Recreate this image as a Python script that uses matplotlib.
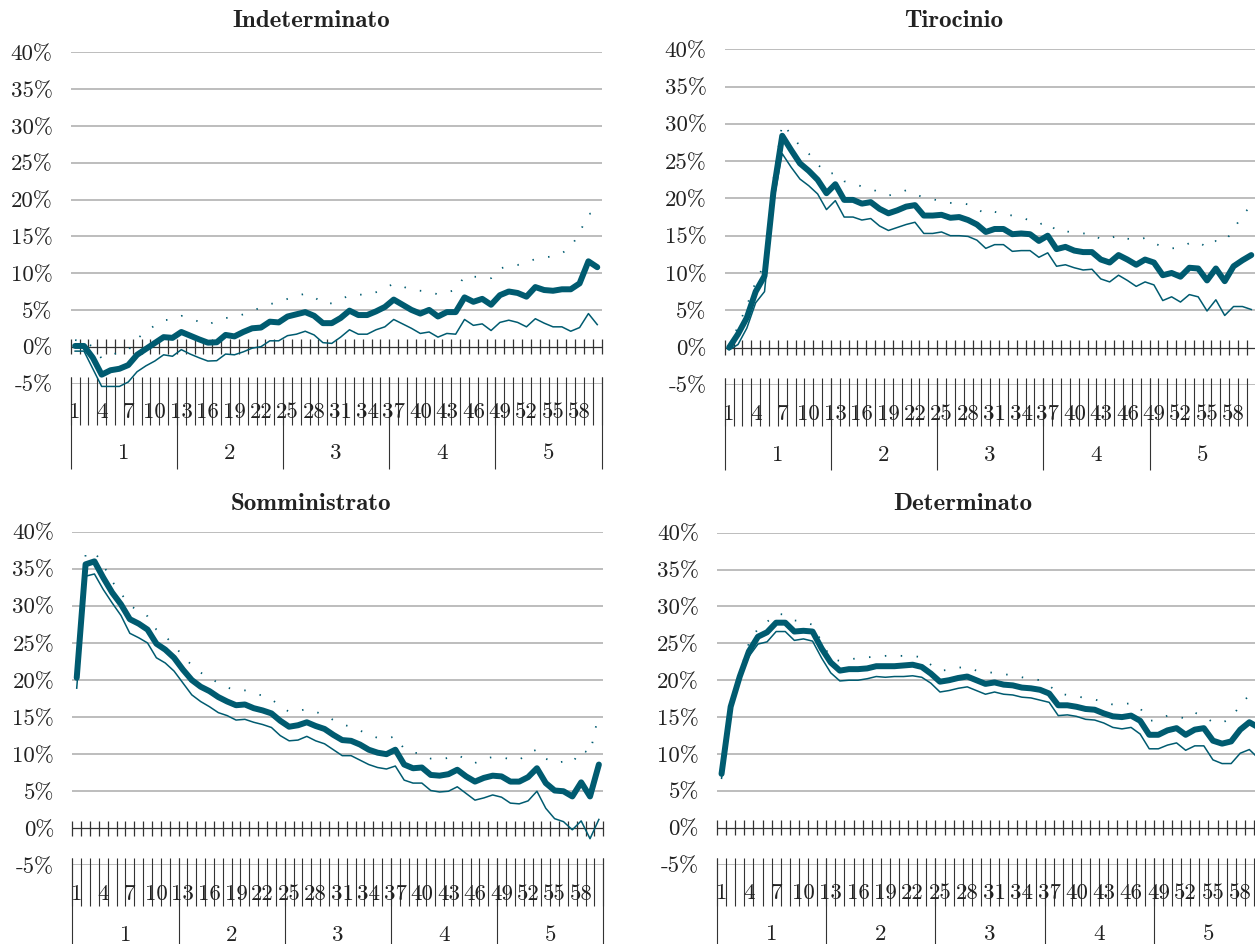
import numpy as np
import matplotlib
matplotlib.use("Agg")
import matplotlib.pyplot as plt
from matplotlib.transforms import blended_transform_factory

plt.rcParams['font.family'] = ['cmr10', 'DejaVu Serif']
plt.rcParams['axes.unicode_minus'] = False
plt.rcParams['axes.formatter.use_mathtext'] = True

# dati: mesi 1-60, raggruppati in anni 1-5
mesi = np.arange(1, 61)
anni = ['1', '2', '3', '4', '5']
mesi_etichetta = np.arange(1, 61, 3)
y_ticks = np.arange(-5, 41, 5)

# Indeterminato
indet_stima = [0.1, 0.1, -1.5, -3.8, -3.2, -3.0, -2.5, -1.1, -0.3, 0.5,
               1.3, 1.2, 2.0, 1.5, 1.0, 0.55, 0.6, 1.6, 1.4, 2.0,
               2.5, 2.6, 3.4, 3.3, 4.1, 4.4, 4.7, 4.2, 3.2, 3.2,
               3.9, 4.9, 4.3, 4.3, 4.8, 5.4, 6.4, 5.7, 5.0, 4.5,
               5.0, 4.1, 4.7, 4.7, 6.7, 6.1, 6.5, 5.7, 7.0, 7.5,
               7.3, 6.8, 8.1, 7.7, 7.6, 7.8, 7.8, 8.6, 11.6, 10.8]
indet_inf = [-0.6, -0.6, -3.0, -5.4, -5.4, -5.4, -4.8, -3.4, -2.6, -1.95,
             -1.1, -1.3, -0.4, -1.0, -1.5, -1.95, -1.9, -1.0, -1.1, -0.7,
             -0.2, 0.0, 0.8, 0.8, 1.5, 1.7, 2.1, 1.6, 0.55, 0.45,
             1.3, 2.3, 1.7, 1.7, 2.3, 2.7, 3.7, 3.1, 2.5, 1.8,
             2.0, 1.3, 1.8, 1.7, 3.7, 2.9, 3.1, 2.2, 3.3, 3.6,
             3.3, 2.7, 3.8, 3.2, 2.7, 2.7, 2.1, 2.6, 4.5, 3.0]
indet_sup = [0.9, 0.7, 0.0, -1.6, -1.1, -0.8, -0.5, 1.1, 2.0, 2.9,
             3.6, 3.7, 4.2, 3.8, 3.4, 3.0, 3.5, 3.9, 4.0, 4.4,
             4.9, 5.3, 5.8, 6.0, 6.5, 6.9, 7.2, 6.8, 5.8, 5.9,
             6.4, 7.0, 7.1, 7.0, 7.4, 7.9, 8.6, 8.2, 7.7, 7.6,
             7.5, 7.1, 7.4, 7.7, 9.6, 9.5, 9.5, 9.3, 10.6, 11.0,
             11.1, 11.5, 11.9, 12.1, 12.3, 12.7, 13.5, 15.5, 18.0, 18.4]

# Tirocinio
tiro_stima = [0.0, 1.8, 4.0, 7.5, 9.6, 20.8, 28.4, 26.5, 24.7, 23.7,
              22.5, 20.7, 21.9, 19.8, 19.8, 19.3, 19.5, 18.6, 18.0, 18.4,
              18.9, 19.1, 17.7, 17.7, 17.8, 17.4, 17.5, 17.1, 16.5, 15.5,
              15.9, 15.9, 15.2, 15.3, 15.2, 14.3, 15.0, 13.2, 13.5, 13.0,
              12.8, 12.8, 11.8, 11.4, 12.4, 11.8, 11.1, 11.8, 11.4, 9.7,
              10.0, 9.5, 10.7, 10.6, 9.0, 10.6, 8.9, 10.9, 11.7, 12.4]
tiro_inf = [-0.3, 0.4, 2.6, 6.0, 7.5, 19.5, 26.0, 24.2, 22.6, 21.7,
            20.6, 18.5, 19.7, 17.5, 17.5, 17.1, 17.3, 16.3, 15.7, 16.1,
            16.5, 16.8, 15.3, 15.3, 15.5, 15.0, 15.0, 14.9, 14.4, 13.3,
            13.8, 13.8, 12.9, 13.0, 13.0, 12.1, 12.7, 10.9, 11.1, 10.7,
            10.4, 10.5, 9.2, 8.8, 9.7, 9.0, 8.2, 8.8, 8.4, 6.3,
            6.8, 6.1, 7.1, 6.8, 4.9, 6.4, 4.3, 5.5, 5.5, 5.1]
tiro_sup = [0.3, 2.8, 5.6, 8.8, 11.2, 22.5, 30.0, 28.6, 27.0, 26.0,
            24.6, 23.3, 23.4, 22.3, 22.0, 21.6, 21.3, 20.8, 20.4, 20.6,
            21.1, 20.6, 20.1, 19.9, 19.6, 19.4, 19.4, 19.2, 18.6, 17.9,
            18.2, 17.9, 17.7, 17.5, 17.0, 16.5, 16.9, 15.6, 15.6, 15.4,
            15.3, 15.3, 14.5, 14.6, 15.1, 14.6, 14.4, 14.7, 14.0, 13.5,
            13.3, 13.4, 14.0, 14.2, 13.4, 14.3, 14.2, 15.8, 17.8, 19.0]

# Somministrato
somm_stima = [20.3, 35.6, 36.0, 33.8, 31.8, 30.2, 28.2, 27.6, 26.8, 24.9,
              24.1, 23.0, 21.4, 20.0, 19.1, 18.5, 17.7, 17.1, 16.6, 16.7,
              16.2, 15.9, 15.5, 14.5, 13.7, 13.9, 14.3, 13.8, 13.4, 12.6,
              11.9, 11.8, 11.3, 10.6, 10.2, 10.0, 10.6, 8.6, 8.1, 8.2,
              7.2, 7.1, 7.3, 7.9, 7.0, 6.3, 6.8, 7.1, 7.0, 6.3,
              6.3, 6.9, 8.1, 6.1, 5.1, 5.0, 4.3, 6.2, 4.3, 8.6]
somm_inf = [18.9, 34.0, 34.3, 32.2, 30.4, 28.7, 26.3, 25.7, 25.0, 23.0,
            22.3, 21.2, 19.6, 18.0, 17.1, 16.4, 15.6, 15.2, 14.6, 14.7,
            14.3, 14.0, 13.6, 12.5, 11.8, 11.9, 12.4, 11.8, 11.4, 10.6,
            9.8, 9.8, 9.2, 8.6, 8.2, 8.0, 8.4, 6.5, 6.1, 6.1,
            5.1, 4.9, 5.0, 5.6, 4.7, 3.8, 4.1, 4.5, 4.2, 3.4,
            3.3, 3.7, 5.0, 2.7, 1.3, 0.9, -0.2, 1.0, -1.4, 1.2]
somm_sup = [21.7, 36.9, 37.3, 35.5, 33.3, 31.7, 30.0, 29.4, 28.6, 26.8,
            25.9, 24.7, 23.2, 22.0, 21.0, 20.3, 19.6, 19.0, 18.6, 18.6,
            18.2, 17.9, 17.4, 16.5, 15.7, 15.8, 16.1, 15.7, 15.3, 14.6,
            14.0, 13.7, 13.2, 12.6, 12.2, 12.1, 12.4, 10.7, 10.2, 10.1,
            9.4, 9.3, 9.5, 9.9, 9.3, 8.8, 9.4, 9.6, 9.6, 9.3,
            9.2, 10.2, 10.6, 9.4, 8.8, 9.0, 8.8, 10.6, 10.1, 15.5]

# Determinato
det_stima = [7.3, 16.4, 20.5, 23.9, 25.9, 26.5, 27.8, 27.8, 26.6, 26.7,
             26.6, 24.3, 22.4, 21.3, 21.5, 21.5, 21.6, 21.9, 21.9, 21.9,
             22.0, 22.1, 21.8, 20.9, 19.8, 20.0, 20.3, 20.5, 20.0, 19.5,
             19.7, 19.4, 19.3, 19.0, 18.9, 18.7, 18.2, 16.6, 16.6, 16.4,
             16.1, 16.0, 15.5, 15.1, 15.0, 15.2, 14.5, 12.6, 12.6, 13.2,
             13.5, 12.6, 13.3, 13.5, 11.8, 11.4, 11.7, 13.3, 14.3, 13.6]
det_inf = [6.7, 16.0, 20.3, 23.2, 24.9, 25.2, 26.6, 26.6, 25.4, 25.6,
           25.3, 23.0, 21.0, 19.9, 20.0, 20.0, 20.2, 20.5, 20.4, 20.5,
           20.5, 20.6, 20.4, 19.6, 18.4, 18.6, 18.9, 19.1, 18.6, 18.1,
           18.4, 18.1, 18.0, 17.7, 17.6, 17.3, 17.0, 15.2, 15.3, 15.1,
           14.7, 14.6, 14.2, 13.6, 13.4, 13.6, 12.7, 10.7, 10.7, 11.2,
           11.5, 10.5, 11.1, 11.1, 9.2, 8.7, 8.7, 10.1, 10.6, 9.4]
det_sup = [7.9, 16.8, 21.0, 25.0, 27.0, 27.9, 29.0, 28.9, 28.1, 28.0,
           27.5, 25.2, 23.0, 22.6, 22.8, 23.0, 23.1, 23.2, 23.3, 23.3,
           23.3, 23.3, 23.1, 22.1, 21.3, 21.4, 21.7, 21.8, 21.3, 21.1,
           21.0, 20.8, 20.7, 20.4, 20.2, 20.0, 19.3, 18.2, 18.0, 17.8,
           17.6, 17.4, 17.0, 16.7, 16.7, 16.9, 16.2, 14.5, 14.6, 15.2,
           15.1, 14.8, 15.6, 15.1, 14.3, 14.2, 14.9, 16.6, 18.0, 17.6]

W, H = 1255, 944
col = '#005b70'
testo = '#222222'
fs = 16.5

fig = plt.figure(figsize=(W / 100, H / 100), dpi=100)


def fy(px):
    return 1 - px / H


def pannello(titolo, stima, inf, sup, box, tpos):
    l, r, t, b = box
    ax = fig.add_axes([l / W, fy(b), (r - l) / W, (b - t) / H])
    ax.set_xlim(0.5, 60.5)
    ax.set_ylim(-5, 40)
    for s in ax.spines.values():
        s.set_visible(False)
    ax.patch.set_visible(False)

    for v in y_ticks:
        if v != 0:
            ax.axhline(v, color='#ababab', lw=1.1, zorder=1)
    ax.axhline(0, color='#333333', lw=0.9, zorder=2)

    ax.set_xticks([])
    ax.set_yticks(y_ticks)
    ax.set_yticklabels([f'{v}%' for v in y_ticks])
    ax.tick_params(axis='y', length=0, pad=13, labelsize=fs, labelcolor=testo)

    tr = blended_transform_factory(ax.transData, fig.transFigure)
    bordi = np.arange(0.5, 61, 1)
    zero_px = t + 40 / 45 * (b - t)
    # tacche sull'asse a 0%
    ax.vlines(bordi, fy(zero_px + 7.5), fy(zero_px - 7.5), transform=tr,
              color='#333333', lw=0.9, zorder=2, clip_on=False)
    # asse delle categorie a due livelli
    ax.vlines(bordi, fy(b + 41), fy(b - 7), transform=tr,
              color='#333333', lw=0.8, zorder=2, clip_on=False)
    ax.vlines(bordi[::12], fy(b + 85), fy(b - 7), transform=tr,
              color='#333333', lw=0.8, zorder=2, clip_on=False)
    for m in mesi_etichetta:
        ax.text(m, fy(b + 29), str(m), transform=tr, ha='center', va='center',
                fontsize=fs, color=testo)
    for i, a in enumerate(anni):
        ax.text(6.5 + 12 * i, fy(b + 70), a, transform=tr, ha='center',
                va='center', fontsize=fs, color=testo)

    ax.plot(mesi, sup, color=col, lw=1.3, ls=(0, (0.8, 8)), clip_on=False, zorder=3)
    ax.plot(mesi, inf, color=col, lw=1.1, clip_on=False, zorder=3)
    ax.plot(mesi, stima, color=col, lw=4.3, solid_joinstyle='round',
            solid_capstyle='round', clip_on=False, zorder=4)

    fig.text(tpos[0] / W, fy(tpos[1]), titolo, ha='center', va='center',
             fontsize=18, family=['cmb10', 'DejaVu Serif'], color=testo)


pannello('Indeterminato', indet_stima, indet_inf, indet_sup,
         (70.7, 601.7, 52.3, 383.5), (311, 21))
pannello('Tirocinio', tiro_stima, tiro_inf, tiro_sup,
         (724.7, 1255.7, 49.3, 384.8), (954, 21))
pannello('Somministrato', somm_stima, somm_inf, somm_sup,
         (72.3, 603.3, 531.7, 865.4), (311, 504))
pannello('Determinato', det_stima, det_inf, det_sup,
         (717, 1263, 532.7, 864.6), (963, 504))

fig.savefig('out.png', dpi=100)
